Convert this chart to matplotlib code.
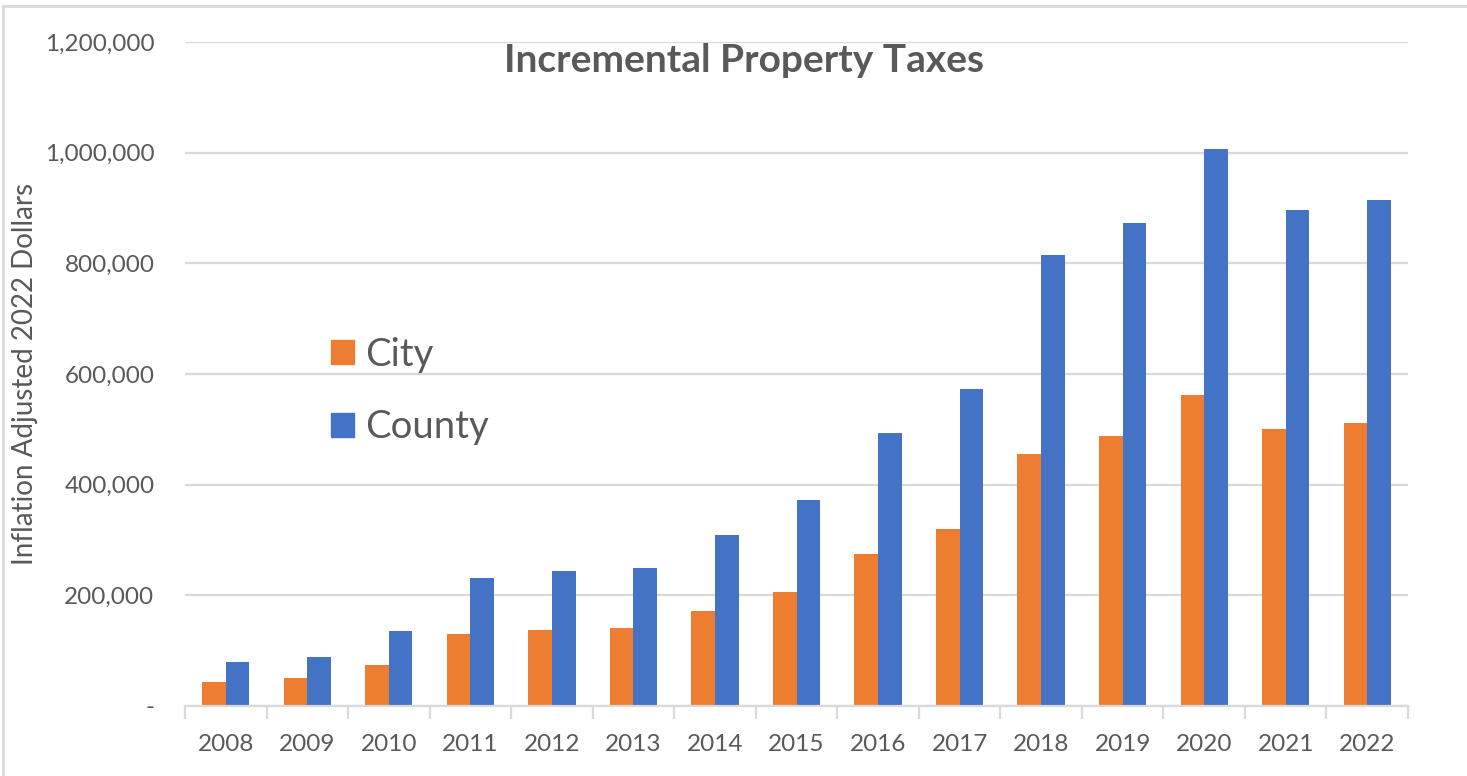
import numpy as np
import matplotlib
matplotlib.use("Agg")
import matplotlib.pyplot as plt
from matplotlib.ticker import FuncFormatter, FixedLocator
from matplotlib.lines import Line2D
from matplotlib.patches import Patch

years = ["2008", "2009", "2010", "2011", "2012", "2013", "2014", "2015",
         "2016", "2017", "2018", "2019", "2020", "2021", "2022"]
city = [43900, 50000, 73500, 129500, 137300, 140300, 172200, 206500,
        274000, 319200, 454700, 487800, 561900, 500500, 511300]
county = [79000, 89000, 135000, 230700, 244400, 249900, 308300, 372200,
          492600, 572100, 815400, 872000, 1005800, 896100, 914200]

ORANGE = "#ED7D31"
BLUE = "#4472C4"
TXT = "#595959"
GRID = "#D9D9D9"

plt.rcParams['font.family'] = ['Lato', 'DejaVu Sans']

W, H = 1467, 776
fig = plt.figure(figsize=(W / 100, H / 100), dpi=100)
ax = fig.add_axes([185 / W, 1 - 706 / H, (1408 - 185) / W, (706 - 42) / H])

x = np.arange(len(years))
bw = 0.29
ax.bar(x - bw / 2, city, bw, color=ORANGE, label="City", zorder=3)
ax.bar(x + bw / 2, county, bw, color=BLUE, label="County", zorder=3)

ax.set_xlim(-0.5, len(years) - 0.5)
ax.set_ylim(0, 1200000)
ax.set_yticks(np.arange(0, 1200001, 200000))
ax.yaxis.set_major_formatter(FuncFormatter(lambda v, p: "-" if v == 0 else f"{v:,.0f}"))
ax.grid(axis="y", color=GRID, linewidth=1.6, zorder=0)

ax.set_xticks(x)
ax.set_xticklabels(years)
ax.xaxis.set_minor_locator(FixedLocator(np.arange(-0.5, len(years), 1.0)))
ax.tick_params(axis="x", which="major", length=0, pad=20, labelsize=17.5, labelcolor=TXT)
ax.tick_params(axis="x", which="minor", length=9, width=1.6, color=GRID)
ax.tick_params(axis="y", length=0, pad=22, labelsize=17.5, labelcolor=TXT)

for s in ["top", "right", "left"]:
    ax.spines[s].set_visible(False)
ax.spines["bottom"].set_color(GRID)
ax.spines["bottom"].set_linewidth(1.6)
ax.spines["bottom"].set_zorder(4)

ax.set_ylabel("Inflation Adjusted 2022 Dollars", fontsize=20, color=TXT)
ax.yaxis.set_label_coords((38 - 185) / (1408 - 185), 0.5)

fig.text(744 / W, 1 - 60 / H, "Incremental Property Taxes", ha="center", va="center",
         fontsize=28, fontweight="bold", color=TXT)

handles = [Patch(color=ORANGE, label="City"), Patch(color=BLUE, label="County")]
leg = fig.legend(handles=handles, loc="center left", bbox_to_anchor=(297 / W, 1 - 391 / H),
                 frameon=False, fontsize=27.5, handlelength=0.58, handleheight=0.58,
                 handletextpad=0.3, labelspacing=0.95)
for t in leg.get_texts():
    t.set_color(TXT)

# outer frame (left and top edges)
fig.add_artist(Line2D([3 / W, 3 / W], [0, 1 - 6 / H], color=GRID, linewidth=2))
fig.add_artist(Line2D([3 / W, 1], [1 - 6 / H, 1 - 6 / H], color=GRID, linewidth=2))

fig.savefig("out.png", dpi=100)
